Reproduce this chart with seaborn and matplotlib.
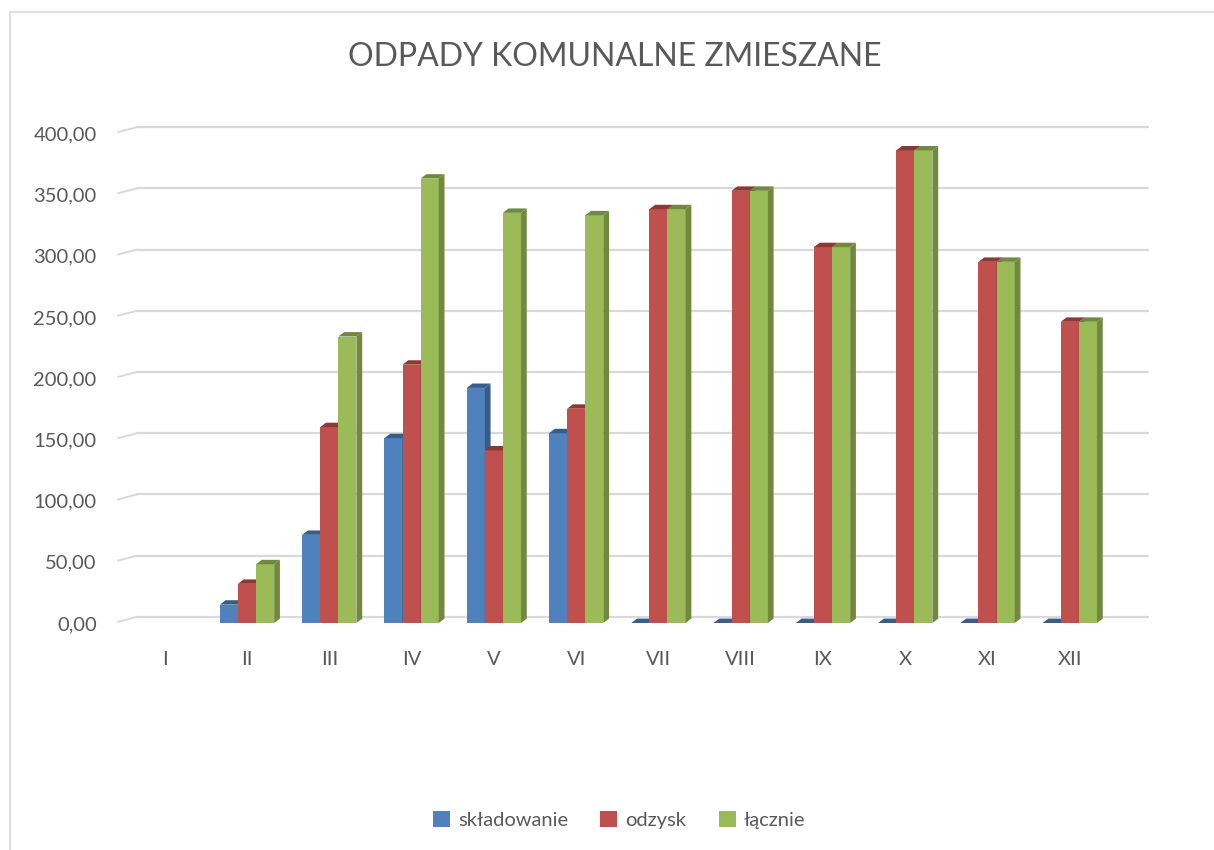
import matplotlib
matplotlib.use("Agg")
import matplotlib.pyplot as plt
from matplotlib.patches import Polygon, Patch, Rectangle
import seaborn as sns
import numpy as np
import pandas as pd

# data
months = ["I", "II", "III", "IV", "V", "VI", "VII", "VIII", "IX", "X", "XI", "XII"]
skladowanie = [np.nan, 15, 72, 151, 192, 155, 0, 0, 0, 0, 0, 0]
odzysk = [np.nan, 32, 160, 211, 141, 175, 338, 353, 307, 386, 295, 246]
lacznie = [np.nan, 48, 234, 363, 335, 333, 338, 353, 307, 386, 295, 246]
series_names = ["składowanie", "odzysk", "łącznie"]
colors = ["#4F81BD", "#C0504D", "#9BBB59"]
side_colors = ["#385D8A", "#8C3836", "#71893F"]
yticks = [0, 50, 100, 150, 200, 250, 300, 350, 400]

df = pd.DataFrame({
    "miesiac": months * 3,
    "seria": [s for s in series_names for _ in months],
    "wartosc": skladowanie + odzysk + lacznie,
})

sns.set_style("white")
plt.rcParams["font.family"] = ["Lato", "DejaVu Sans"]
text_color = "#595959"

fig = plt.figure(figsize=(12.14, 8.5), dpi=100)
ax = fig.add_axes([137 / 1214, (850 - 623) / 850, (1148 - 137) / 1214, (623 - 110) / 850])

group_w = 0.66
sns.barplot(data=df, x="miesiac", y="wartosc", hue="seria", order=months,
            hue_order=series_names, palette=colors, width=group_w,
            saturation=1, ax=ax, legend=False, errorbar=None, zorder=2)

xl = (-0.337, 11.95)
ax.set_xlim(*xl)
ax.set_ylim(0, 419)

# fake 3D depth for each bar
dx, dy = 0.07, 3.6
bar_w = group_w / 3
for p in list(ax.patches):
    h = p.get_height()
    if not np.isfinite(h):
        continue
    x, w = p.get_x(), p.get_width()
    k = int(round((x + w / 2 - round(x + w / 2)) / bar_w)) + 1
    p.set_zorder(2 + 0.2 * k)
    p.set_edgecolor("none")
    side = Polygon([(x + w, 0), (x + w + dx, dy), (x + w + dx, h + dy), (x + w, h)],
                   closed=True, facecolor=side_colors[k], edgecolor="none", zorder=2.1 + 0.2 * k)
    top = Polygon([(x, h), (x + dx, h + dy), (x + w + dx, h + dy), (x + w, h)],
                  closed=True, facecolor=side_colors[k], edgecolor="none", zorder=2.1 + 0.2 * k)
    ax.add_patch(side)
    ax.add_patch(top)

# back-wall gridlines with the little perspective stubs on the left
for v in yticks:
    ax.plot([xl[0], xl[1]], [v + 5, v + 5], color="#d9d9d9", lw=1.6, zorder=1, clip_on=False)
    ax.plot([xl[0] - 0.23, xl[0]], [v + 1, v + 5], color="#d9d9d9", lw=1.4, zorder=1, clip_on=False)

ax.set_yticks(yticks)
ax.set_yticklabels([f"{v:.2f}".replace(".", ",") for v in yticks])
ax.tick_params(axis="y", length=0, pad=29, labelsize=14.5, labelcolor=text_color)
ax.tick_params(axis="x", length=0, pad=20, labelsize=14.5, labelcolor=text_color)
ax.set_xlabel("")
ax.set_ylabel("")
ax.grid(False)
for s in ax.spines.values():
    s.set_visible(False)

fig.text(615 / 1214, 1 - 57 / 850, "ODPADY KOMUNALNE ZMIESZANE", ha="center", va="center",
         fontsize=23, color=text_color)

handles = [Patch(facecolor=c, edgecolor="none") for c in colors]
fig.legend(handles, series_names, loc="center", bbox_to_anchor=(0.51, 1 - 820 / 850),
           ncol=3, frameon=False, fontsize=14.5, labelcolor=text_color,
           handlelength=0.85, handleheight=0.85, handletextpad=0.4, columnspacing=1.6)

fig.patches.append(Rectangle((10 / 1214, -0.01), 1.0, 1 - 12 / 850 + 0.01, transform=fig.transFigure,
                             fill=False, edgecolor="#d9d9d9", lw=1.2))

fig.savefig("out.png", dpi=100)
